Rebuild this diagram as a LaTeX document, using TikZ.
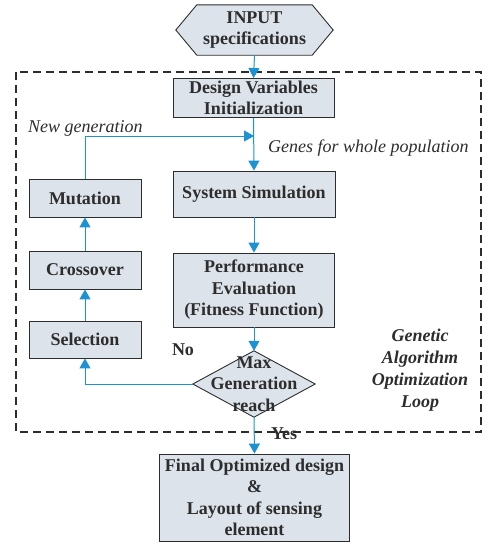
\documentclass[tikz,border=0pt]{standalone}
\usepackage{fontspec}
\setmainfont{Liberation Serif}
\usetikzlibrary{arrows.meta,backgrounds}
\definecolor{flowblue}{RGB}{28,146,210}
\definecolor{boxfill}{RGB}{221,227,234}
\definecolor{boxline}{RGB}{45,45,45}
\tikzset{
  x=1pt, y=-1pt,
  txt/.style={font=\fontsize{18}{21.5}\selectfont\bfseries, align=center, inner sep=0pt, text=boxline},
  stepbox/.style={txt, draw=boxline, fill=boxfill, line width=0.9pt},
  flow/.style={draw=flowblue, line width=1pt, -{Triangle[width=11pt,length=10pt]}},
  plainflow/.style={draw=flowblue, line width=1pt},
  outline/.style={draw=boxline, fill=boxfill, line width=0.9pt},
  note/.style={font=\fontsize{18}{21.5}\selectfont\itshape, inner sep=0pt, text=boxline},
}
\begin{document}
\begin{tikzpicture}
\useasboundingbox (0,0) rectangle (484,544);

% dashed loop frame
\draw[boxline, line width=1.3pt, dash pattern=on 8pt off 5pt] (16,72) rectangle (481,432);

% input hexagon
\node[txt, minimum width=157pt, minimum height=50pt] (inp) at (254.5,30) {INPUT\\specifications};
\begin{scope}[on background layer]
  \draw[outline] (inp.west) -- ([xshift=21pt]inp.north west) -- ([xshift=-21pt]inp.north east)
    -- (inp.east) -- ([xshift=-21pt]inp.south east) -- ([xshift=21pt]inp.south west) -- cycle;
\end{scope}

% main column
\node[stepbox, minimum width=161pt, minimum height=39pt] (des) at (253.5,98) {Design Variables\\Initialization};
\node[stepbox, minimum width=162pt, minimum height=46pt] (sys) at (254,194) {System Simulation};
\node[stepbox, minimum width=161pt, minimum height=74pt] (perf) at (254,290) {Performance\\Evaluation\\(Fitness Function)};

% decision diamond
\node[txt, minimum width=122pt, minimum height=66pt] (dec) at (254,384) {Max\\Generation\\reach};
\begin{scope}[on background layer]
  \draw[outline] (dec.north) -- (dec.east) -- (dec.south) -- (dec.west) -- cycle;
\end{scope}

% genetic operators
\node[stepbox, minimum width=112pt, minimum height=38pt] (mut) at (85,198) {Mutation};
\node[stepbox, minimum width=112pt, minimum height=38pt] (cro) at (85,270) {Crossover};
\node[stepbox, minimum width=112pt, minimum height=37pt] (sel) at (85,339.5) {Selection};

% result
\node[stepbox, minimum width=190pt, minimum height=87pt] (fin) at (254.5,497.5) {Final Optimized design\\\&\\Layout of sensing\\element};

\coordinate (join) at (254,136);

% connectors
\draw[flow] (inp.south) -- (des.north);
\draw[flow] (des.south) -- (sys.north);
\draw[flow] (mut.north) |- (join);
\draw[flow] (sys.south) -- (perf.north);
\draw[flow] (perf.south) -- (dec.north);
\draw[flow] (dec.west) -| (sel.south);
\draw[flow] (sel.north) -- (cro.south);
\draw[flow] (cro.north) -- (mut.south);
\draw[flow] (dec.south) -- (fin.north);

% labels
\node[note, anchor=base west] (ngen) at (28,132) {New generation};
\node[note, anchor=base west] (genes) at (268,152) {Genes for whole population};
\node[txt] (no) at (183,350) {No};
\node[txt] (yes) at (284,434) {Yes};
\node[txt, font=\fontsize{18}{22}\selectfont\bfseries\itshape] (ga) at (420,370) {Genetic\\Algorithm\\Optimization\\Loop};
\end{tikzpicture}
\end{document}
